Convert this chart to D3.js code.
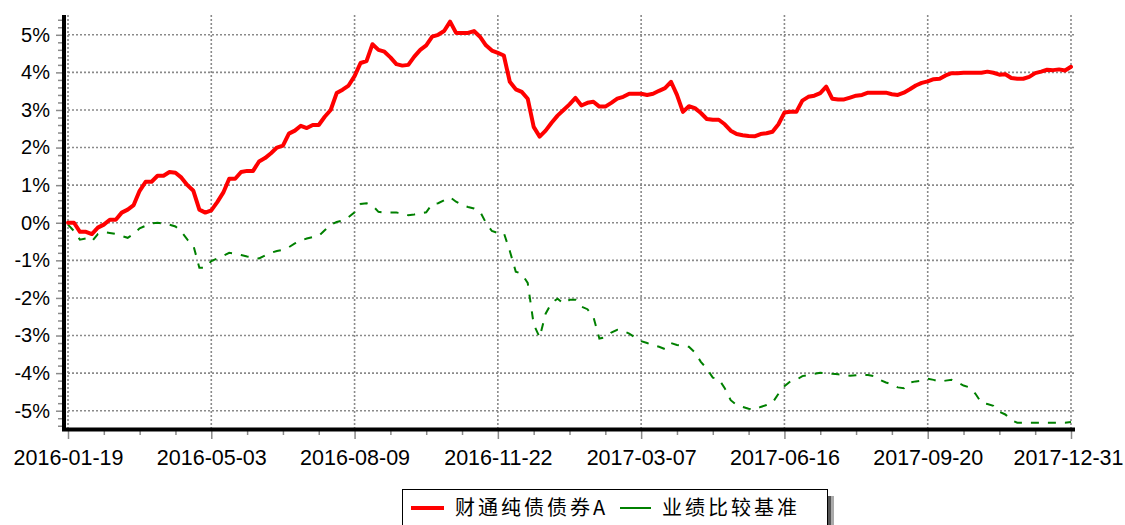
<!DOCTYPE html>
<html><head><meta charset="utf-8">
<script src="https://cdn.jsdelivr.net/npm/d3@7"></script>
<style>body{margin:0;background:#fff}svg{display:block}</style>
</head><body>
<svg id="c" width="1125" height="525"></svg>
<script>
const xTickLabels = ["2016-01-19","2016-05-03","2016-08-09","2016-11-22","2017-03-07","2017-06-16","2017-09-20","2017-12-31"];
const yTickValues = [-5,-4,-3,-2,-1,0,1,2,3,4,5];
const seriesNames = ["财通纯债债券A","业绩比较基准"];
const fundValues = [
0.0,0.0,-0.24,-0.24,-0.3,-0.13,-0.05,0.08,0.08,0.27,
0.35,0.47,0.85,1.09,1.09,1.25,1.25,1.35,1.33,1.2,
1.0,0.85,0.35,0.27,0.33,0.55,0.8,1.17,1.17,1.35,
1.38,1.38,1.63,1.72,1.85,2.0,2.05,2.37,2.45,2.58,
2.52,2.6,2.6,2.82,3.0,3.45,3.54,3.65,3.9,4.25,
4.3,4.75,4.6,4.55,4.4,4.22,4.18,4.2,4.42,4.6,
4.72,4.95,5.0,5.1,5.35,5.05,5.05,5.05,5.1,4.95,
4.72,4.58,4.52,4.45,3.75,3.55,3.48,3.3,2.55,2.29,
2.45,2.66,2.85,3.0,3.15,3.32,3.12,3.19,3.22,3.09,
3.09,3.19,3.3,3.35,3.43,3.43,3.43,3.4,3.43,3.51,
3.58,3.75,3.4,2.95,3.1,3.05,2.92,2.76,2.74,2.74,
2.62,2.45,2.36,2.33,2.31,2.3,2.36,2.38,2.42,2.62,
2.93,2.95,2.95,3.25,3.35,3.38,3.45,3.62,3.3,3.28,
3.28,3.33,3.38,3.4,3.46,3.46,3.46,3.46,3.42,3.4,
3.46,3.55,3.65,3.72,3.76,3.82,3.83,3.92,3.98,3.98,
3.99,3.99,3.99,3.99,4.02,3.99,3.94,3.95,3.85,3.83,
3.83,3.88,3.98,4.02,4.07,4.06,4.08,4.05,4.15
];
const benchValues = [
-0.05,-0.22,-0.45,-0.42,-0.5,-0.3,-0.25,-0.27,-0.3,-0.35,
-0.4,-0.3,-0.15,-0.08,-0.02,0.0,-0.02,-0.05,-0.1,-0.24,
-0.45,-0.6,-1.2,-1.2,-1.02,-0.95,-0.88,-0.8,-0.82,-0.86,
-0.9,-0.92,-0.95,-0.87,-0.8,-0.75,-0.72,-0.65,-0.55,-0.47,
-0.42,-0.38,-0.35,-0.2,-0.05,0.02,0.06,0.15,0.28,0.5,
0.52,0.46,0.29,0.27,0.27,0.27,0.25,0.2,0.22,0.25,
0.28,0.5,0.52,0.6,0.68,0.56,0.47,0.42,0.38,0.3,
0.0,-0.22,-0.27,-0.27,-0.75,-1.3,-1.36,-1.6,-2.7,-3.05,
-2.42,-2.13,-2.02,-2.15,-2.05,-2.05,-2.23,-2.3,-2.5,-3.08,
-3.05,-2.92,-2.85,-2.88,-2.95,-3.05,-3.15,-3.2,-3.26,-3.3,
-3.36,-3.2,-3.25,-3.28,-3.3,-3.45,-3.7,-3.88,-4.12,-4.16,
-4.4,-4.72,-4.85,-4.9,-4.95,-4.97,-4.9,-4.85,-4.79,-4.55,
-4.35,-4.22,-4.18,-4.08,-4.05,-4.02,-3.99,-4.0,-4.02,-4.03,
-4.05,-4.07,-4.06,-4.05,-4.05,-4.08,-4.18,-4.25,-4.3,-4.38,
-4.4,-4.25,-4.22,-4.2,-4.15,-4.18,-4.23,-4.2,-4.18,-4.25,
-4.33,-4.38,-4.55,-4.79,-4.82,-4.87,-5.03,-5.1,-5.25,-5.32,
-5.32,-5.32,-5.32,-5.32,-5.32,-5.32,-5.32,-5.32,-5.3
];

const svg = d3.select("#c");
const n = fundValues.length;
const step = (n - 1) / (xTickLabels.length - 1);
const x = d3.scaleLinear().domain([0, n - 1]).range([68, 1071]);
const y = d3.scaleLinear().domain([-5.5, 5.5]).range([429.5, 16]);
const xTickIdx = xTickLabels.map((d, i) => i * step);
const font = "'Liberation Sans', Arial, sans-serif";

// grid
const grid = svg.append("g").attr("stroke", "#8a8a8a").attr("stroke-width", 1.6).attr("stroke-dasharray", "2,2");
grid.selectAll("line.h").data(yTickValues).join("line")
  .attr("x1", 64).attr("x2", 1074).attr("y1", d => y(d)).attr("y2", d => y(d));
grid.selectAll("line.v").data(xTickIdx).join("line")
  .attr("x1", d => x(d)).attr("x2", d => x(d)).attr("y1", 15).attr("y2", 429);

// y axis
const yMinor = d3.range(-27, 28).map(k => k * 0.2).filter(v => Math.abs(v * 5 - Math.round(v) * 5) > 0.01);
const yAxisMinor = svg.append("g").attr("transform", "translate(62,0)")
  .call(d3.axisLeft(y).tickValues(yMinor).tickSize(4).tickFormat(""));
const yAxis = svg.append("g").attr("transform", "translate(62,0)")
  .call(d3.axisLeft(y).tickValues(yTickValues).tickSize(6).tickPadding(6).tickFormat(d => d + "%"));
[yAxisMinor, yAxis].forEach(g => {
  g.select(".domain").remove();
  g.selectAll(".tick line").attr("stroke", "#8a8a8a").attr("stroke-width", 1.5);
});
yAxis.selectAll("text").attr("font-family", font).attr("font-size", 20).attr("fill", "#000");

// x axis
const xMinorIdx = d3.range(0, n, step / 4).filter(v => xTickIdx.indexOf(v) < 0);
const xAxisMinor = svg.append("g").attr("transform", "translate(0,431)")
  .call(d3.axisBottom(x).tickValues(xMinorIdx).tickSize(4).tickFormat(""));
const xAxis = svg.append("g").attr("transform", "translate(0,431)")
  .call(d3.axisBottom(x).tickValues(xTickIdx).tickSize(8).tickPadding(11).tickFormat((d, i) => xTickLabels[i]));
[xAxisMinor, xAxis].forEach(g => {
  g.select(".domain").remove();
  g.selectAll(".tick line").attr("stroke", "#8a8a8a").attr("stroke-width", 1.5);
});
xAxis.selectAll("text").attr("font-family", font).attr("font-size", 21.5).attr("fill", "#000");
// keep the last label inside the picture, as in the reference
xAxis.selectAll(".tick:last-of-type text").attr("text-anchor", "end").attr("x", 1123 - x(n - 1));

// axis lines
svg.append("line").attr("x1", 64).attr("x2", 64).attr("y1", 15).attr("y2", 431)
  .attr("stroke", "#000").attr("stroke-width", 4);
svg.append("line").attr("x1", 62).attr("x2", 1075).attr("y1", 429.5).attr("y2", 429.5)
  .attr("stroke", "#000").attr("stroke-width", 4);

// series
const line = d3.line().x((d, i) => x(i)).y(d => y(d));
svg.append("path").datum(benchValues).attr("d", line)
  .attr("fill", "none").attr("stroke", "#008000").attr("stroke-width", 2)
  .attr("stroke-dasharray", "8,9");
svg.append("path").datum(fundValues).attr("d", line)
  .attr("fill", "none").attr("stroke", "#ff0000").attr("stroke-width", 4)
  .attr("stroke-linejoin", "round").attr("stroke-linecap", "round");

// legend
const lg = svg.append("g");
lg.append("rect").attr("x", 828).attr("y", 496).attr("width", 3).attr("height", 40).attr("fill", "#555");
lg.append("rect").attr("x", 831).attr("y", 496).attr("width", 3).attr("height", 40).attr("fill", "#aaa");
lg.append("rect").attr("x", 402.5).attr("y", 489.5).attr("width", 425).attr("height", 45)
  .attr("fill", "#fff").attr("stroke", "#000").attr("stroke-width", 1);
const legendItems = [
  {name: seriesNames[0], color: "#ff0000", w: 4, x0: 411, x1: 444, tx: 455},
  {name: seriesNames[1], color: "#008000", w: 2, x0: 620, x1: 651, tx: 662}
];
legendItems.forEach(it => {
  lg.append("line").attr("x1", it.x0).attr("x2", it.x1).attr("y1", 508).attr("y2", 508)
    .attr("stroke", it.color).attr("stroke-width", it.w);
  lg.append("text").attr("x", it.tx).attr("y", 515).text(it.name)
    .attr("font-family", "'Noto Sans CJK SC', 'Liberation Sans', sans-serif")
    .attr("font-size", 20).attr("letter-spacing", 3).attr("fill", "#000");
});
</script>
</body></html>
